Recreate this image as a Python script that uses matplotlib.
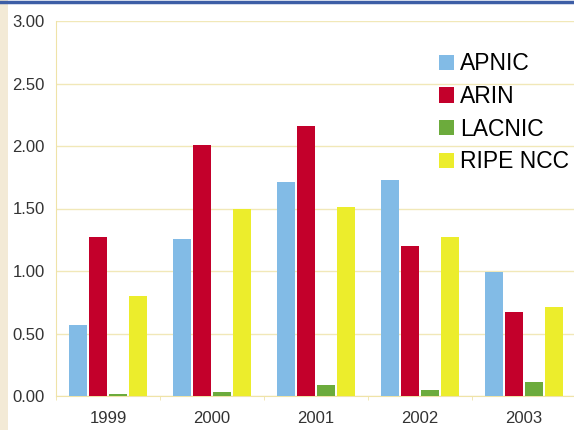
import numpy as np
import matplotlib.pyplot as plt
from matplotlib.patches import Rectangle

years = ['1999', '2000', '2001', '2002', '2003']
apnic = [0.57, 1.26, 1.71, 1.73, 0.99]
arin = [1.27, 2.01, 2.16, 1.20, 0.67]
lacnic = [0.02, 0.03, 0.09, 0.05, 0.11]
ripe = [0.80, 1.50, 1.51, 1.27, 0.71]

series = [('APNIC', apnic, '#82bbe6'),
          ('ARIN', arin, '#c3002b'),
          ('LACNIC', lacnic, '#6cab3c'),
          ('RIPE NCC', ripe, '#eced2c')]

plt.rcParams['font.family'] = ['Liberation Sans', 'DejaVu Sans']

fig = plt.figure(figsize=(5.74, 4.30), dpi=100)
fig.patch.set_facecolor('white')

# page decoration: beige strip on the left, blue rule on top
fig.patches.append(Rectangle((0, 0), 8 / 574, 1, transform=fig.transFigure,
                             facecolor='#f3ead6', edgecolor='none', zorder=0))
fig.lines.append(plt.Line2D([0, 1], [1 - 2 / 430, 1 - 2 / 430], transform=fig.transFigure,
                            color='#3d5ea6', lw=2.5))

ax = fig.add_axes([56 / 574, 34 / 430, 520 / 574, 375 / 430])
x = np.arange(len(years))
w = 0.175
step = 0.19
for i, (name, vals, col) in enumerate(series):
    ax.bar(x + (i - 1.5) * step, vals, width=w, color=col, label=name, zorder=3)

ax.set_xlim(-0.5, 4.5)
ax.set_ylim(0, 3.0)
ax.set_yticks(np.arange(0, 3.01, 0.5))
ax.set_yticklabels([f'{v:.2f}' for v in np.arange(0, 3.01, 0.5)])
ax.set_xticks(x)
ax.set_xticklabels(years)
ax.set_xticks(np.arange(-0.5, 4.6, 1), minor=True)
ax.tick_params(axis='both', which='major', length=0, labelsize=12, colors='#333333')
ax.tick_params(axis='y', pad=8)
ax.tick_params(axis='x', pad=11)
ax.tick_params(axis='x', which='minor', length=3, color='#efe3a8')
ax.grid(axis='y', color='#f1e8b8', lw=1, zorder=0)
for s in ['top', 'right']:
    ax.spines[s].set_visible(False)
ax.spines['left'].set_color('#efe3a8')
ax.spines['bottom'].set_color('#efe3a8')

ax.legend(loc='upper left', bbox_to_anchor=(0.737, 0.916), frameon=False,
          fontsize=16.5, handlelength=0.65, handleheight=0.65, handletextpad=0.25,
          labelspacing=0.42, borderpad=0, borderaxespad=0)

fig.savefig('out.png', dpi=100)
